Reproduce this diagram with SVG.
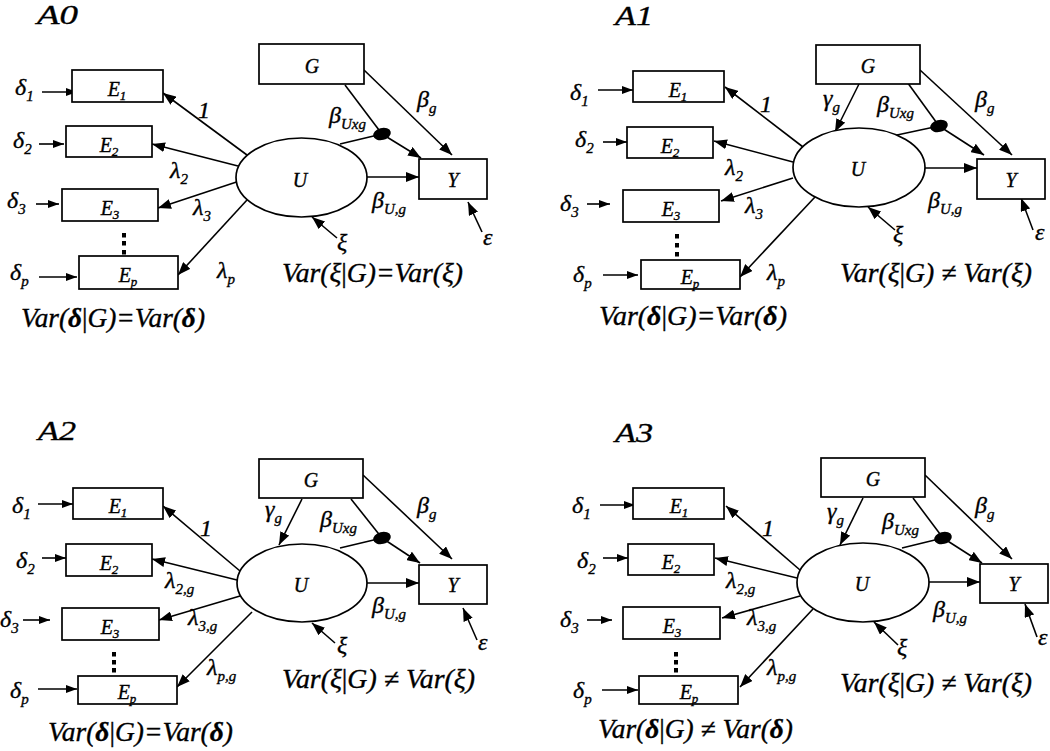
<svg xmlns="http://www.w3.org/2000/svg" width="1050" height="751" viewBox="0 0 1050 751" font-family="Liberation Serif">
<style>
.t{font-family:"Liberation Serif",serif;font-style:italic;fill:#000;stroke:#000;stroke-width:0.35}
.g{font-size:24px}
.n{font-size:20px}
.var{font-size:27px}
.ttl{font-size:27px}
.ln{stroke:#000;stroke-width:1.6;fill:none}
.a{marker-end:url(#ah)}
.as{marker-end:url(#ahs)}
.box{fill:#fff;stroke:#000;stroke-width:1.7}
.dt{fill:#000}
</style>
<defs>
<marker id="ah" markerUnits="userSpaceOnUse" markerWidth="13" markerHeight="10" refX="13" refY="5" orient="auto"><path d="M0,0 L13,5 L0,10 z" fill="#000"/></marker>
<marker id="ahs" markerUnits="userSpaceOnUse" markerWidth="11" markerHeight="8" refX="11" refY="4" orient="auto"><path d="M0,0 L11,4 L0,8 z" fill="#000"/></marker>
</defs>
<rect width="1050" height="751" fill="#fff"/>

<!-- ===== Panel A0 ===== -->
<g id="a0">
<text class="t ttl" x="37" y="24" textLength="41" lengthAdjust="spacingAndGlyphs">A0</text>
<g id="a0-connectors">
<line class="ln as" x1="42" y1="92" x2="77" y2="92"/>
<line class="ln as" x1="39" y1="144" x2="64" y2="144"/>
<line class="ln as" x1="36" y1="204" x2="59" y2="204"/>
<line class="ln as" x1="39" y1="277" x2="77" y2="277"/>
<line class="ln a" x1="247" y1="155" x2="163" y2="93"/>
<line class="ln a" x1="238" y1="166" x2="152" y2="144"/>
<line class="ln a" x1="236.5" y1="182" x2="158" y2="208"/>
<line class="ln a" x1="247" y1="200" x2="178" y2="275"/>
<line class="ln a" x1="364" y1="70" x2="452" y2="155"/>
<line class="ln" x1="345" y1="85" x2="382" y2="134"/>
<line class="ln" x1="340" y1="144" x2="382" y2="134"/>
<line class="ln a" x1="382" y1="134" x2="421" y2="158"/>
<line class="ln a" x1="367" y1="177" x2="419" y2="177"/>
<line class="ln a" x1="337" y1="238" x2="312" y2="217"/>
<line class="ln a" x1="482" y1="232" x2="468" y2="202"/>
</g>
<g id="a0-E1"><rect class="box" x="72" y="70" width="91" height="32"/><text class="t n" x="117" y="96" text-anchor="middle">E<tspan font-size="13" dy="4">1</tspan></text></g>
<g id="a0-E2"><rect class="box" x="66" y="126" width="86" height="31"/><text class="t n" x="109" y="152" text-anchor="middle">E<tspan font-size="13" dy="4">2</tspan></text></g>
<g id="a0-E3"><rect class="box" x="62" y="189" width="96" height="32"/><text class="t n" x="110" y="215" text-anchor="middle">E<tspan font-size="13" dy="4">3</tspan></text></g>
<g id="a0-Ep"><rect class="box" x="79" y="256" width="99" height="33"/><text class="t n" x="128" y="282" text-anchor="middle">E<tspan font-size="13" dy="4">p</tspan></text></g>
<g id="a0-dots"><rect class="dt" x="122" y="233" width="4" height="4.5"/><rect class="dt" x="122" y="241" width="4" height="4.5"/><rect class="dt" x="122" y="250" width="4" height="4.5"/></g>
<g id="a0-G"><rect class="box" x="259" y="44" width="105" height="40"/><text class="t n" x="312" y="73" text-anchor="middle">G</text></g>
<g id="a0-U"><ellipse class="box" cx="301.5" cy="177.5" rx="65.5" ry="39.5"/><text class="t n" x="300" y="187" text-anchor="middle">U</text></g>
<g id="a0-Y"><rect class="box" x="419" y="159" width="68" height="40"/><text class="t n" x="453" y="187" text-anchor="middle">Y</text></g>
<g id="a0-int"><ellipse cx="382" cy="134" rx="9" ry="6" transform="rotate(-15 382 134)" fill="#000"/></g>
<g id="a0-labels">
<text class="t g" x="15" y="95">δ<tspan font-size="15" dy="6">1</tspan></text>
<text class="t g" x="13" y="148">δ<tspan font-size="15" dy="6">2</tspan></text>
<text class="t g" x="7" y="208">δ<tspan font-size="15" dy="6">3</tspan></text>
<text class="t g" x="10" y="280">δ<tspan font-size="15" dy="6">p</tspan></text>
<text class="t g" x="198" y="118">1</text>
<text class="t g" x="170" y="178">λ<tspan font-size="15" dy="6">2</tspan></text>
<text class="t g" x="193" y="215">λ<tspan font-size="15" dy="6">3</tspan></text>
<text class="t g" x="217" y="278">λ<tspan font-size="15" dy="6">p</tspan></text>
<text class="t g" x="417" y="107">β<tspan font-size="15" dy="6">g</tspan></text>
<text class="t g" x="329" y="123">β<tspan font-size="15" dy="6">Uxg</tspan></text>
<text class="t g" x="372" y="208">β<tspan font-size="15" dy="6">U,g</tspan></text>
<text class="t g" x="337" y="250">ξ</text>
<text class="t g" x="483" y="245">ε</text>
<text class="t var" x="282" y="282" textLength="181" lengthAdjust="spacingAndGlyphs">Var(ξ<tspan font-style="normal">|</tspan>G)=Var(ξ)</text>
<text class="t var" x="21" y="327" textLength="184" lengthAdjust="spacingAndGlyphs">Var(<tspan font-weight="bold">δ</tspan><tspan font-style="normal">|</tspan>G)=Var(<tspan font-weight="bold">δ</tspan>)</text>
</g>
</g>

<!-- ===== Panel A1 ===== -->
<g id="a1">
<text class="t ttl" x="615" y="25" textLength="38" lengthAdjust="spacingAndGlyphs">A1</text>
<g id="a1-connectors">
<line class="ln as" x1="598" y1="90" x2="633" y2="90"/>
<line class="ln as" x1="603" y1="142" x2="627" y2="142"/>
<line class="ln as" x1="587" y1="204" x2="610" y2="204"/>
<line class="ln as" x1="603" y1="275" x2="638" y2="275"/>
<line class="ln a" x1="803" y1="147" x2="725" y2="87"/>
<line class="ln a" x1="793" y1="162" x2="714" y2="141"/>
<line class="ln a" x1="793" y1="178" x2="721" y2="201"/>
<line class="ln a" x1="815" y1="197" x2="740" y2="277"/>
<line class="ln a" x1="859" y1="84" x2="835" y2="132"/>
<line class="ln" x1="902" y1="75" x2="939" y2="126"/>
<line class="ln" x1="897" y1="135" x2="939" y2="126"/>
<line class="ln a" x1="939" y1="126" x2="984" y2="155"/>
<line class="ln a" x1="920" y1="70" x2="1012" y2="155"/>
<line class="ln a" x1="925" y1="168" x2="977" y2="168"/>
<line class="ln a" x1="895" y1="230" x2="868" y2="207"/>
<line class="ln a" x1="1033" y1="230" x2="1021" y2="198"/>
</g>
<g id="a1-E1"><rect class="box" x="633" y="71" width="91" height="31"/><text class="t n" x="678" y="97" text-anchor="middle">E<tspan font-size="13" dy="4">1</tspan></text></g>
<g id="a1-E2"><rect class="box" x="627" y="127" width="86" height="31"/><text class="t n" x="670" y="153" text-anchor="middle">E<tspan font-size="13" dy="4">2</tspan></text></g>
<g id="a1-E3"><rect class="box" x="623" y="190" width="96" height="32"/><text class="t n" x="671" y="216" text-anchor="middle">E<tspan font-size="13" dy="4">3</tspan></text></g>
<g id="a1-Ep"><rect class="box" x="641" y="260" width="99" height="29"/><text class="t n" x="690" y="284" text-anchor="middle">E<tspan font-size="13" dy="4">p</tspan></text></g>
<g id="a1-dots"><rect class="dt" x="675" y="234" width="4" height="4.5"/><rect class="dt" x="675" y="243" width="4" height="4.5"/><rect class="dt" x="675" y="252" width="4" height="4.5"/></g>
<g id="a1-G"><rect class="box" x="816" y="45" width="104" height="39"/><text class="t n" x="868" y="73" text-anchor="middle">G</text></g>
<g id="a1-U"><ellipse class="box" cx="859" cy="167.5" rx="66" ry="39.5"/><text class="t n" x="858" y="176" text-anchor="middle">U</text></g>
<g id="a1-Y"><rect class="box" x="977" y="159" width="68" height="40"/><text class="t n" x="1011" y="187" text-anchor="middle">Y</text></g>
<g id="a1-int"><ellipse cx="939" cy="126" rx="9" ry="6" transform="rotate(-15 939 126)" fill="#000"/></g>
<g id="a1-labels">
<text class="t g" x="570" y="100">δ<tspan font-size="15" dy="6">1</tspan></text>
<text class="t g" x="575" y="147">δ<tspan font-size="15" dy="6">2</tspan></text>
<text class="t g" x="560" y="211">δ<tspan font-size="15" dy="6">3</tspan></text>
<text class="t g" x="573" y="282">δ<tspan font-size="15" dy="6">p</tspan></text>
<text class="t g" x="760" y="112">1</text>
<text class="t g" x="725" y="175">λ<tspan font-size="15" dy="6">2</tspan></text>
<text class="t g" x="745" y="213">λ<tspan font-size="15" dy="6">3</tspan></text>
<text class="t g" x="767" y="280">λ<tspan font-size="15" dy="6">p</tspan></text>
<text class="t g" x="823" y="106">γ<tspan font-size="15" dy="6">g</tspan></text>
<text class="t g" x="975" y="107">β<tspan font-size="15" dy="6">g</tspan></text>
<text class="t g" x="877" y="112">β<tspan font-size="15" dy="6">Uxg</tspan></text>
<text class="t g" x="928" y="208">β<tspan font-size="15" dy="6">U,g</tspan></text>
<text class="t g" x="893" y="242">ξ</text>
<text class="t g" x="1035" y="240">ε</text>
<text class="t var" x="840" y="282" textLength="192" lengthAdjust="spacingAndGlyphs">Var(ξ<tspan font-style="normal">|</tspan>G) ≠ Var(ξ)</text>
<text class="t var" x="599" y="325" textLength="188" lengthAdjust="spacingAndGlyphs">Var(<tspan font-weight="bold">δ</tspan><tspan font-style="normal">|</tspan>G)=Var(<tspan font-weight="bold">δ</tspan>)</text>
</g>
</g>

<!-- ===== Panel A2 ===== -->
<g id="a2">
<text class="t ttl" x="38" y="440" textLength="38" lengthAdjust="spacingAndGlyphs">A2</text>
<g id="a2-connectors">
<line class="ln as" x1="38" y1="504" x2="73" y2="504"/>
<line class="ln as" x1="42" y1="558" x2="66" y2="558"/>
<line class="ln as" x1="23" y1="620" x2="50" y2="620"/>
<line class="ln as" x1="38" y1="689" x2="77" y2="689"/>
<line class="ln a" x1="240" y1="571" x2="163" y2="506"/>
<line class="ln a" x1="237" y1="580" x2="152" y2="559"/>
<line class="ln a" x1="240" y1="596" x2="159" y2="620"/>
<line class="ln a" x1="252" y1="612" x2="177" y2="687"/>
<line class="ln a" x1="302" y1="499" x2="279" y2="545"/>
<line class="ln" x1="351" y1="499" x2="382" y2="538"/>
<line class="ln" x1="340" y1="548" x2="382" y2="538"/>
<line class="ln a" x1="382" y1="538" x2="420" y2="563"/>
<line class="ln a" x1="363" y1="475" x2="452" y2="559"/>
<line class="ln a" x1="367" y1="583" x2="419" y2="583"/>
<line class="ln a" x1="335" y1="643" x2="312" y2="623"/>
<line class="ln a" x1="477" y1="640" x2="463" y2="608"/>
</g>
<g id="a2-E1"><rect class="box" x="73" y="488" width="90" height="31"/><text class="t n" x="118" y="513" text-anchor="middle">E<tspan font-size="13" dy="4">1</tspan></text></g>
<g id="a2-E2"><rect class="box" x="66" y="544" width="86" height="32"/><text class="t n" x="109" y="570" text-anchor="middle">E<tspan font-size="13" dy="4">2</tspan></text></g>
<g id="a2-E3"><rect class="box" x="62" y="608" width="97" height="32"/><text class="t n" x="110" y="634" text-anchor="middle">E<tspan font-size="13" dy="4">3</tspan></text></g>
<g id="a2-Ep"><rect class="box" x="78" y="676" width="99" height="28"/><text class="t n" x="127" y="699" text-anchor="middle">E<tspan font-size="13" dy="4">p</tspan></text></g>
<g id="a2-dots"><rect class="dt" x="112" y="652" width="4" height="4.5"/><rect class="dt" x="112" y="660" width="4" height="4.5"/><rect class="dt" x="112" y="668" width="4" height="4.5"/></g>
<g id="a2-G"><rect class="box" x="259" y="459" width="104" height="39"/><text class="t n" x="311" y="487" text-anchor="middle">G</text></g>
<g id="a2-U"><ellipse class="box" cx="302" cy="583" rx="65" ry="39"/><text class="t n" x="301" y="592" text-anchor="middle">U</text></g>
<g id="a2-Y"><rect class="box" x="419" y="565" width="68" height="39"/><text class="t n" x="453" y="592" text-anchor="middle">Y</text></g>
<g id="a2-int"><ellipse cx="382" cy="538" rx="9" ry="6" transform="rotate(-15 382 538)" fill="#000"/></g>
<g id="a2-labels">
<text class="t g" x="12" y="513">δ<tspan font-size="15" dy="6">1</tspan></text>
<text class="t g" x="16" y="568">δ<tspan font-size="15" dy="6">2</tspan></text>
<text class="t g" x="0" y="627">δ<tspan font-size="15" dy="6">3</tspan></text>
<text class="t g" x="10" y="698">δ<tspan font-size="15" dy="6">p</tspan></text>
<text class="t g" x="200" y="536">1</text>
<text class="t g" x="165" y="588">λ<tspan font-size="15" dy="6">2,g</tspan></text>
<text class="t g" x="188" y="625">λ<tspan font-size="15" dy="6">3,g</tspan></text>
<text class="t g" x="207" y="675">λ<tspan font-size="15" dy="6">p,g</tspan></text>
<text class="t g" x="265" y="517">γ<tspan font-size="15" dy="6">g</tspan></text>
<text class="t g" x="417" y="513">β<tspan font-size="15" dy="6">g</tspan></text>
<text class="t g" x="320" y="527">β<tspan font-size="15" dy="6">Uxg</tspan></text>
<text class="t g" x="372" y="613">β<tspan font-size="15" dy="6">U,g</tspan></text>
<text class="t g" x="337" y="653">ξ</text>
<text class="t g" x="478" y="650">ε</text>
<text class="t var" x="282" y="688" textLength="193" lengthAdjust="spacingAndGlyphs">Var(ξ<tspan font-style="normal">|</tspan>G) ≠ Var(ξ)</text>
<text class="t var" x="48" y="741" textLength="185" lengthAdjust="spacingAndGlyphs">Var(<tspan font-weight="bold">δ</tspan><tspan font-style="normal">|</tspan>G)=Var(<tspan font-weight="bold">δ</tspan>)</text>
</g>
</g>

<!-- ===== Panel A3 ===== -->
<g id="a3">
<text class="t ttl" x="615" y="442" textLength="38" lengthAdjust="spacingAndGlyphs">A3</text>
<g id="a3-connectors">
<line class="ln as" x1="600" y1="505" x2="635" y2="505"/>
<line class="ln as" x1="603" y1="558" x2="628" y2="558"/>
<line class="ln as" x1="587" y1="620" x2="612" y2="620"/>
<line class="ln as" x1="602" y1="690" x2="638" y2="690"/>
<line class="ln a" x1="800" y1="570" x2="726" y2="506"/>
<line class="ln a" x1="797" y1="578" x2="715" y2="558"/>
<line class="ln a" x1="800" y1="596" x2="722" y2="618"/>
<line class="ln a" x1="813" y1="609" x2="740" y2="687"/>
<line class="ln a" x1="863" y1="498" x2="840" y2="545"/>
<line class="ln" x1="913" y1="498" x2="943" y2="538"/>
<line class="ln" x1="902" y1="548" x2="943" y2="538"/>
<line class="ln a" x1="943" y1="538" x2="982" y2="563"/>
<line class="ln a" x1="925" y1="475" x2="1012" y2="559"/>
<line class="ln a" x1="929" y1="582" x2="980" y2="582"/>
<line class="ln a" x1="898" y1="645" x2="874" y2="622"/>
<line class="ln a" x1="1037" y1="637" x2="1025" y2="604"/>
</g>
<g id="a3-E1"><rect class="box" x="633" y="488" width="91" height="31"/><text class="t n" x="679" y="513" text-anchor="middle">E<tspan font-size="13" dy="4">1</tspan></text></g>
<g id="a3-E2"><rect class="box" x="628" y="544" width="86" height="31"/><text class="t n" x="671" y="569" text-anchor="middle">E<tspan font-size="13" dy="4">2</tspan></text></g>
<g id="a3-E3"><rect class="box" x="623" y="607" width="97" height="32"/><text class="t n" x="672" y="633" text-anchor="middle">E<tspan font-size="13" dy="4">3</tspan></text></g>
<g id="a3-Ep"><rect class="box" x="639" y="676" width="99" height="28"/><text class="t n" x="689" y="699" text-anchor="middle">E<tspan font-size="13" dy="4">p</tspan></text></g>
<g id="a3-dots"><rect class="dt" x="674" y="652" width="4" height="4.5"/><rect class="dt" x="674" y="660" width="4" height="4.5"/><rect class="dt" x="674" y="668" width="4" height="4.5"/></g>
<g id="a3-G"><rect class="box" x="821" y="458" width="104" height="39"/><text class="t n" x="873" y="486" text-anchor="middle">G</text></g>
<g id="a3-U"><ellipse class="box" cx="863" cy="582.5" rx="66" ry="39.5"/><text class="t n" x="862" y="591" text-anchor="middle">U</text></g>
<g id="a3-Y"><rect class="box" x="980" y="564" width="68" height="39"/><text class="t n" x="1014" y="591" text-anchor="middle">Y</text></g>
<g id="a3-int"><ellipse cx="943" cy="538" rx="9" ry="6" transform="rotate(-15 943 538)" fill="#000"/></g>
<g id="a3-labels">
<text class="t g" x="572" y="513">δ<tspan font-size="15" dy="6">1</tspan></text>
<text class="t g" x="577" y="568">δ<tspan font-size="15" dy="6">2</tspan></text>
<text class="t g" x="560" y="627">δ<tspan font-size="15" dy="6">3</tspan></text>
<text class="t g" x="573" y="698">δ<tspan font-size="15" dy="6">p</tspan></text>
<text class="t g" x="762" y="536">1</text>
<text class="t g" x="726" y="588">λ<tspan font-size="15" dy="6">2,g</tspan></text>
<text class="t g" x="747" y="625">λ<tspan font-size="15" dy="6">3,g</tspan></text>
<text class="t g" x="767" y="675">λ<tspan font-size="15" dy="6">p,g</tspan></text>
<text class="t g" x="827" y="519">γ<tspan font-size="15" dy="6">g</tspan></text>
<text class="t g" x="975" y="513">β<tspan font-size="15" dy="6">g</tspan></text>
<text class="t g" x="882" y="529">β<tspan font-size="15" dy="6">Uxg</tspan></text>
<text class="t g" x="933" y="617">β<tspan font-size="15" dy="6">U,g</tspan></text>
<text class="t g" x="897" y="655">ξ</text>
<text class="t g" x="1038" y="645">ε</text>
<text class="t var" x="840" y="692" textLength="192" lengthAdjust="spacingAndGlyphs">Var(ξ<tspan font-style="normal">|</tspan>G) ≠ Var(ξ)</text>
<text class="t var" x="598" y="738" textLength="195" lengthAdjust="spacingAndGlyphs">Var(<tspan font-weight="bold">δ</tspan><tspan font-style="normal">|</tspan>G) ≠ Var(<tspan font-weight="bold">δ</tspan>)</text>
</g>
</g>
</svg>
